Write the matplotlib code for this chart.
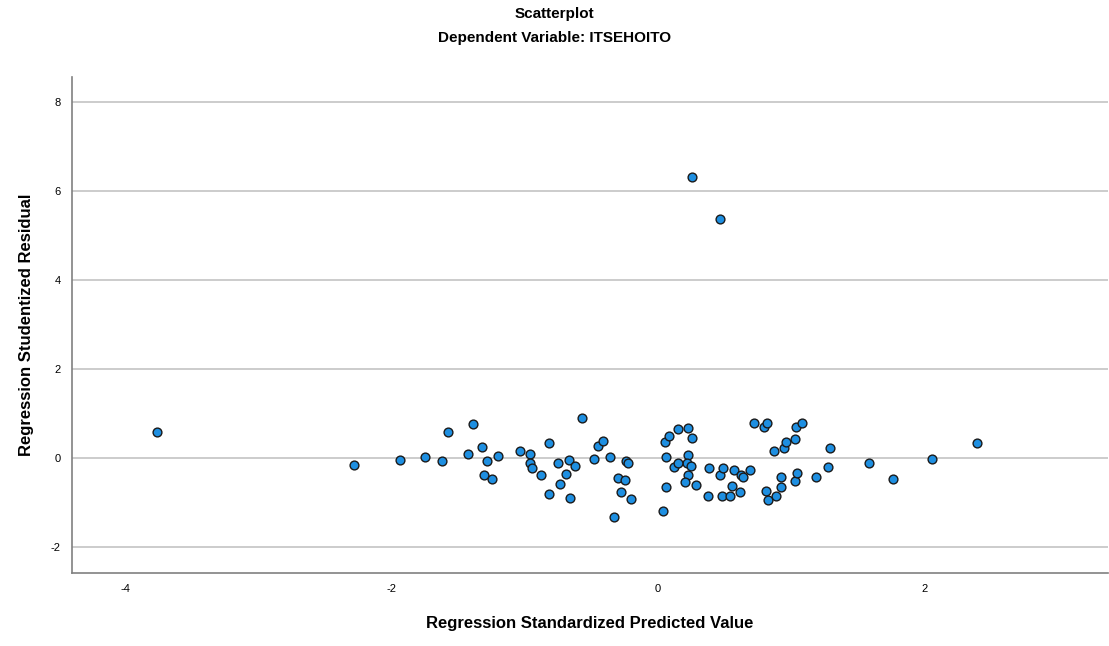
import matplotlib.pyplot as plt

plt.rcParams['font.family'] = ['Liberation Sans', 'DejaVu Sans']
plt.rcParams['axes.unicode_minus'] = False

# Regression standardized predicted value (x) and studentized residual (y)
pred = [-3.76, 0.255, 0.465,
        -2.286, -1.935, -1.746, -1.618, -1.573, -1.39, -1.423, -1.318, -1.285, -1.305, -1.245, -1.198,
        -1.035, -0.96, -0.96, -0.943, -0.88, -0.818, -0.815, -0.748, -0.735, -0.69, -0.67, -0.62,
        -0.66, -0.573, -0.48, -0.45, -0.415, -0.36, -0.298, -0.248, -0.243, -0.223, -0.278, -0.205,
        -0.333, 0.035, 0.053, 0.08, 0.058, 0.12, 0.06, 0.152,
        0.228, 0.253, 0.223, 0.215, 0.248, 0.152, 0.223, 0.203, 0.29, 0.373, 0.385, 0.465, 0.49,
        0.485, 0.54, 0.557, 0.573, 0.615, 0.628, 0.64, 0.69, 0.72, 0.795, 0.823, 0.87, 0.945, 0.965,
        1.028, 1.04, 1.083, 0.815, 0.828, 0.89, 0.928, 0.923, 1.028, 1.045, 1.185, 1.278, 1.295,
        1.585, 1.765, 2.058, 2.398]
resid = [0.58, 6.31, 5.37,
         -0.16, -0.04, 0.02, -0.07, 0.59, 0.76, 0.10, 0.24, -0.07, -0.37, -0.48, 0.04,
         0.16, 0.10, -0.10, -0.23, -0.38, 0.33, -0.80, -0.10, -0.59, -0.36, -0.04, -0.18,
         -0.90, 0.91, -0.02, 0.28, 0.39, 0.02, -0.44, -0.49, -0.07, -0.10, -0.76, -0.92,
         -1.33, -1.19, 0.37, 0.49, 0.02, -0.21, -0.66, 0.65,
         0.68, 0.46, 0.07, -0.10, -0.18, -0.12, -0.38, -0.53, -0.61, -0.85, -0.23, -0.37, -0.23,
         -0.85, -0.85, -0.63, -0.27, -0.76, -0.38, -0.42, -0.27, 0.78, 0.70, 0.78, 0.16, 0.22, 0.37,
         0.43, 0.70, 0.79, -0.73, -0.93, -0.85, -0.64, -0.43, -0.52, -0.34, -0.43, -0.20, 0.22,
         -0.12, -0.48, -0.02, 0.34]

x_ticks = [-4, -2, 0, 2]
y_ticks = [-2, 0, 2, 4, 6, 8]

fig = plt.figure(figsize=(11.09, 6.46), dpi=100)
ax = fig.add_axes([0.065, 0.113, 0.934, 0.768])

ax.scatter(pred, resid, s=40, color='#1e8fe1', edgecolor='#1a1a1a', linewidth=1.0, zorder=3)

ax.set_xlim(-4.40, 3.38)
ax.set_ylim(-2.58, 8.56)
ax.set_xticks(x_ticks)
ax.set_yticks(y_ticks)
ax.tick_params(length=0, labelsize=8, pad=8)
ax.grid(axis='y', color='#c8c8c8', linewidth=1.3)
ax.set_axisbelow(True)

for side in ['top', 'right']:
    ax.spines[side].set_visible(False)
for side in ['left', 'bottom']:
    ax.spines[side].set_color('#808080')
    ax.spines[side].set_linewidth(1.2)

ax.set_xlabel('Regression Standardized Predicted Value', fontsize=12, fontweight='bold', labelpad=16)
ax.set_ylabel('Regression Studentized Residual', fontsize=12, fontweight='bold', labelpad=12)

fig.text(0.5, 0.978, 'Scatterplot', ha='center', va='center', fontsize=11, fontweight='bold')
fig.text(0.5, 0.941, 'Dependent Variable: ITSEHOITO', ha='center', va='center', fontsize=11, fontweight='bold')

fig.savefig('out.png', dpi=100)
